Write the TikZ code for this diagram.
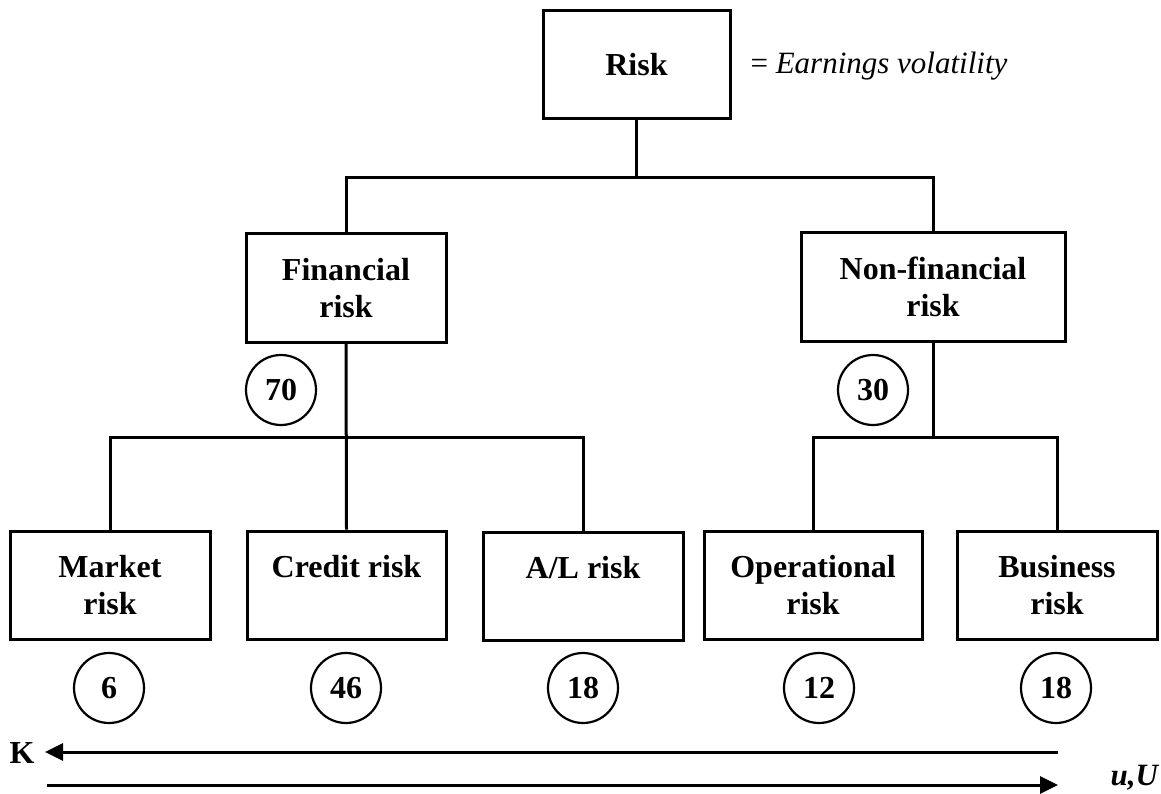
\documentclass[tikz,border=0pt]{standalone}
\usepackage{fontspec}
\setmainfont{Liberation Serif}
\usetikzlibrary{arrows.meta}
\begin{document}
\begin{tikzpicture}[x=1pt,y=-1pt,
  every node/.style={font=\fontsize{32}{37}\selectfont\bfseries},
  box/.style={draw,line width=3pt,minimum height=108pt,inner sep=0pt,align=center},
  num/.style={draw,circle,line width=2.2pt,minimum size=70pt,inner sep=0pt},
  conn/.style={line width=3pt},
  arr/.style={line width=3pt,-{Triangle[length=18pt,width=17pt]}}]
\useasboundingbox (0,0) rectangle (1161,794);
% boxes
\node[box,minimum width=187pt] (risk) at (636.5,65) {Risk};
\node[box,minimum width=200pt] (fin) at (346,288) {Financial\\risk};
\node[box,minimum width=264pt] (nonfin) at (933,287) {Non-financial\\risk};
\node[box,minimum width=200pt] (market) at (110,585) {Market\\risk};
\node[box,minimum width=199pt] (credit) at (346.5,585) {Credit risk\\\phantom{risk}};
\node[box,minimum width=200pt] (al) at (583,586) {A/L risk\\\phantom{risk}};
\node[box,minimum width=218pt] (oper) at (813,585) {Operational\\risk};
\node[box,minimum width=200pt] (bus) at (1057,585) {Business\\risk};
% label
\node[anchor=base west,font=\fontsize{31}{37}\selectfont] (ev) at (747,74) {= \textit{Earnings volatility}};
% circles
\node[num] (c70) at (281,390) {70};
\node[num] (c30) at (873,390) {30};
\node[num] (c6) at (109,688) {6};
\node[num] (c46) at (346,688) {46};
\node[num] (c18a) at (583,688) {18};
\node[num] (c12) at (819,688) {12};
\node[num] (c18b) at (1056,688) {18};
% junctions
\coordinate (j1) at (636.5,178);
\coordinate (j2) at (346,437);
\coordinate (j3) at (933,437);
\draw[conn] (risk.south) -- (j1);
\draw[conn] (fin.north) |- (j1) -| (nonfin.north);
\draw[conn] (fin.south) -- (credit.north);
\draw[conn] (market.north) |- (j2) -| (al.north);
\draw[conn] (nonfin.south) -- (j3);
\draw[conn] (oper.north) |- (j3) -| (bus.north);
% arrows
\node (K) at (22,753) {K};
\node[anchor=base west,font=\fontsize{31}{37}\selectfont\bfseries\itshape] (uU) at (1107,785) {u,U};
\coordinate (ks) at (1058,752);
\coordinate (ke) at (45,752);
\coordinate (us) at (47,785);
\coordinate (ue) at (1058,785);
\draw[arr] (ks) -- (ke);
\draw[arr] (us) -- (ue);
\end{tikzpicture}
\end{document}
